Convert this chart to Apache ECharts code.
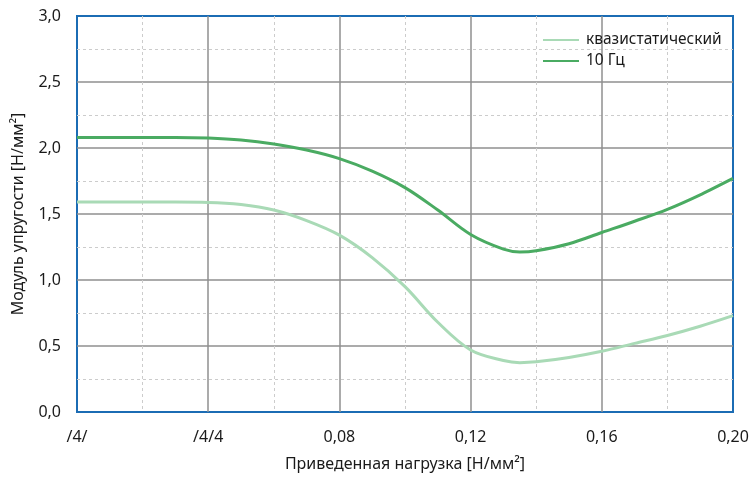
<!DOCTYPE html>
<html><head><meta charset="utf-8">
<script src="https://cdn.jsdelivr.net/npm/echarts@6/dist/echarts.min.js"></script>
<style>html,body{margin:0;padding:0;background:#fff}#c{width:752px;height:477px}</style>
</head><body><div id="c"></div>
<script>
const xValues = [0, 0.01, 0.02, 0.03, 0.04, 0.05, 0.06, 0.07, 0.08, 0.09, 0.10, 0.11, 0.12, 0.13, 0.135, 0.14, 0.15, 0.16, 0.17, 0.18, 0.19, 0.20];
const quasiStatic = [1.59, 1.59, 1.59, 1.59, 1.588, 1.572, 1.53, 1.45, 1.34, 1.17, 0.95, 0.68, 0.47, 0.39, 0.374, 0.38, 0.413, 0.46, 0.52, 0.58, 0.65, 0.73];
const hz10 = [2.08, 2.08, 2.08, 2.08, 2.075, 2.06, 2.03, 1.985, 1.92, 1.825, 1.70, 1.53, 1.345, 1.234, 1.213, 1.222, 1.275, 1.36, 1.445, 1.535, 1.645, 1.77];
const xTickLabels = {'0': '/4/', '0.04': '/4/4', '0.08': '0,08', '0.12': '0,12', '0.16': '0,16', '0.2': '0,20'};
const seriesNames = ['квазистатический', '10 Гц'];

const font = '"Noto Sans", sans-serif';
const chart = echarts.init(document.getElementById('c'));
chart.setOption({
  animation: false,
  grid: {left: 77, right: 19, top: 16, bottom: 65, outerBoundsMode: 'none', containLabel: false,
    show: true, borderColor: '#1b6cb4', borderWidth: 2, backgroundColor: 'transparent', z: 0},
  legend: {
    left: 538, top: 27, orient: 'vertical', itemGap: 5, itemWidth: 36, itemHeight: 19,
    textStyle: {fontFamily: font, fontSize: 15.5, color: '#1a1a1a', padding: [0, 0, 0, 2]},
    data: seriesNames.map(n => ({name: n, icon: 'path://M0,8 L36,8 L36,10 L0,10 Z'}))
  },
  xAxis: {
    type: 'value', min: 0, max: 0.2, interval: 0.04,
    name: 'Приведенная нагрузка [Н/мм²]', nameLocation: 'middle', nameGap: 44,
    nameTextStyle: {fontFamily: font, fontSize: 16, color: '#1a1a1a'},
    axisLine: {show: false}, axisTick: {show: false},
    axisLabel: {margin: 17, fontFamily: font, fontSize: 16, color: '#1a1a1a',
      formatter: v => xTickLabels[String(+v.toFixed(2))] || ''},
    splitLine: {show: true, showMinLine: false, showMaxLine: false, lineStyle: {color: '#8f8f8f', width: 1.5}},
    minorTick: {show: false, splitNumber: 2},
    minorSplitLine: {show: true, lineStyle: {color: '#cccccc', type: [3, 3], width: 1}}
  },
  yAxis: {
    type: 'value', min: 0, max: 3, interval: 0.5,
    name: 'Модуль упругости [Н/мм²]', nameLocation: 'middle', nameGap: 51,
    nameTextStyle: {fontFamily: font, fontSize: 16, color: '#1a1a1a'},
    axisLine: {show: false}, axisTick: {show: false},
    axisLabel: {margin: 16, fontFamily: font, fontSize: 16, color: '#1a1a1a',
      formatter: v => v.toFixed(1).replace('.', ',')},
    splitLine: {show: true, showMinLine: false, showMaxLine: false, lineStyle: {color: '#8f8f8f', width: 1.5}},
    minorTick: {show: false, splitNumber: 2},
    minorSplitLine: {show: true, lineStyle: {color: '#cccccc', type: [3, 3], width: 1}}
  },
  series: [
    {name: seriesNames[0], type: 'line', smooth: 0.35, showSymbol: false,
      lineStyle: {color: '#a9dab6', width: 3}, itemStyle: {color: '#a9dab6'},
      data: xValues.map((x, i) => [x, quasiStatic[i]])},
    {name: seriesNames[1], type: 'line', smooth: 0.35, showSymbol: false,
      lineStyle: {color: '#4aab62', width: 3}, itemStyle: {color: '#4aab62'},
      data: xValues.map((x, i) => [x, hz10[i]])}
  ]
});
</script></body></html>
